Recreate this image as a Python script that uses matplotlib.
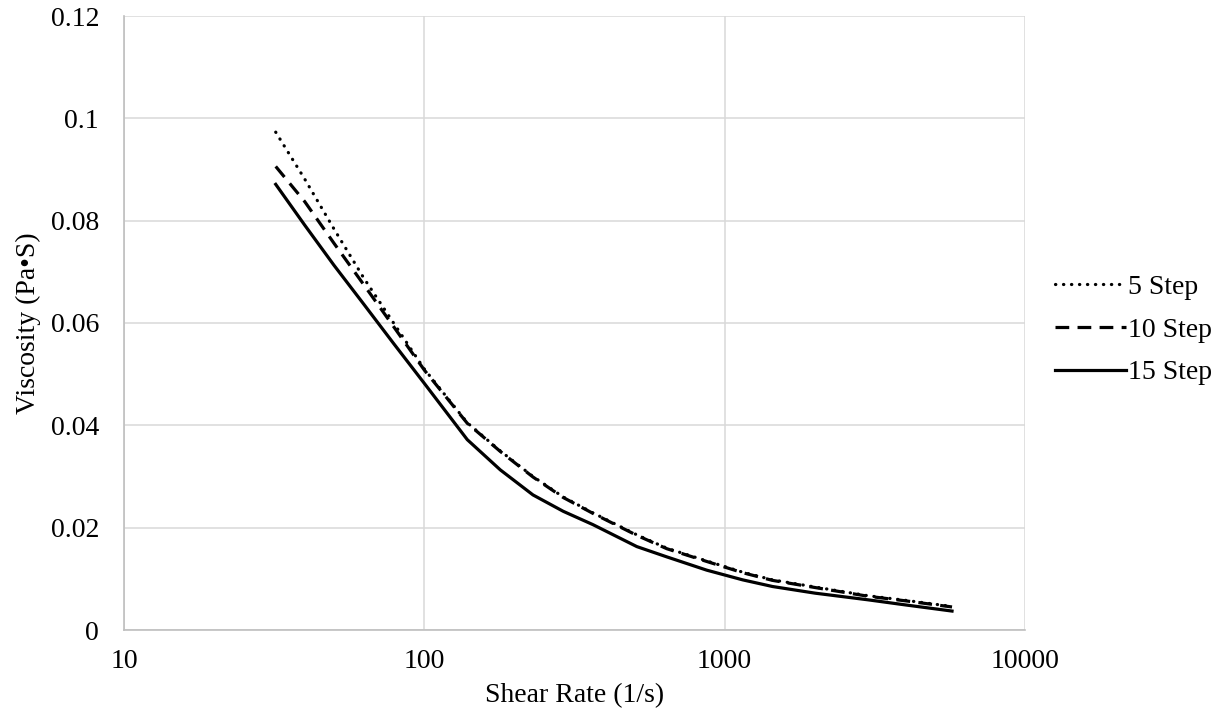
import matplotlib
matplotlib.use("Agg")
import matplotlib.pyplot as plt

# shear rate (1/s) and viscosity (Pa.S)
shear_rate = [32, 40, 50, 63, 79, 100, 139, 179, 230, 290, 364, 510, 641, 871,
              1148, 1443, 2000, 3000, 4000, 5715]
visc_5 = [0.0973, 0.0881, 0.0784, 0.0687, 0.0600, 0.0510, 0.0405, 0.0350, 0.0300,
          0.0260, 0.0229, 0.0186, 0.0160, 0.0135, 0.0113, 0.0098, 0.0084, 0.0067,
          0.0058, 0.0046]
visc_10 = [0.0906, 0.0837, 0.0756, 0.0674, 0.0593, 0.0508, 0.0404, 0.0349, 0.0299,
           0.0259, 0.0228, 0.0185, 0.0159, 0.0134, 0.0112, 0.0097, 0.0083, 0.0066,
           0.0057, 0.0045]
visc_15 = [0.0871, 0.0791, 0.0713, 0.0636, 0.0560, 0.0482, 0.0372, 0.0313, 0.0264,
           0.0232, 0.0206, 0.0163, 0.0143, 0.0117, 0.0098, 0.0085, 0.0072, 0.0059,
           0.0049, 0.0037]

labels = ["5 Step", "10 Step", "15 Step"]
y_ticks = [0, 0.02, 0.04, 0.06, 0.08, 0.1, 0.12]
y_tick_labels = ["0", "0.02", "0.04", "0.06", "0.08", "0.1", "0.12"]
x_ticks = [10, 100, 1000, 10000]
x_tick_labels = ["10", "100", "1000", "10000"]

plt.rcParams["font.family"] = ["Liberation Serif", "DejaVu Serif"]
plt.rcParams["font.size"] = 20

fig = plt.figure(figsize=(12.25, 7.13), dpi=100)
ax = fig.add_axes([124 / 1225, 1 - 630 / 713, (1025 - 124) / 1225, (630 - 16) / 713])

lw = 2.3
ax.plot(shear_rate, visc_5, color="k", linewidth=lw, linestyle=(0, (0.1, 2.4)),
        dash_capstyle="round", label=labels[0])
ax.plot(shear_rate, visc_10, color="k", linewidth=lw, linestyle=(0, (4.3, 2.6)),
        dash_capstyle="butt", label=labels[1])
ax.plot(shear_rate, visc_15, color="k", linewidth=lw, linestyle="-", label=labels[2])

ax.set_xscale("log")
ax.set_xlim(10, 10000)
ax.set_ylim(0, 0.12)
ax.set_xticks(x_ticks)
ax.set_xticklabels(x_tick_labels)
ax.set_yticks(y_ticks)
ax.set_yticklabels(y_tick_labels)
ax.minorticks_off()
ax.tick_params(length=0, pad=14)
ax.tick_params(axis="y", pad=18)

ax.grid(True, color="#d9d9d9", linewidth=1.1)
ax.set_axisbelow(True)
for side in ["top", "right"]:
    ax.spines[side].set_visible(False)
for side in ["left", "bottom"]:
    ax.spines[side].set_color("#bfbfbf")
    ax.spines[side].set_linewidth(1.2)

ax.set_xlabel("Shear Rate (1/s)", labelpad=6)
ax.set_ylabel("Viscosity (Pa\u2022S)", labelpad=7)

ax.legend(loc="center left", bbox_to_anchor=(1041 / 1225, 1 - 330 / 713),
          bbox_transform=fig.transFigure, frameon=False, borderpad=0,
          handlelength=2.55, handletextpad=0.1, labelspacing=0.62)

fig.savefig("out.png", dpi=100)
